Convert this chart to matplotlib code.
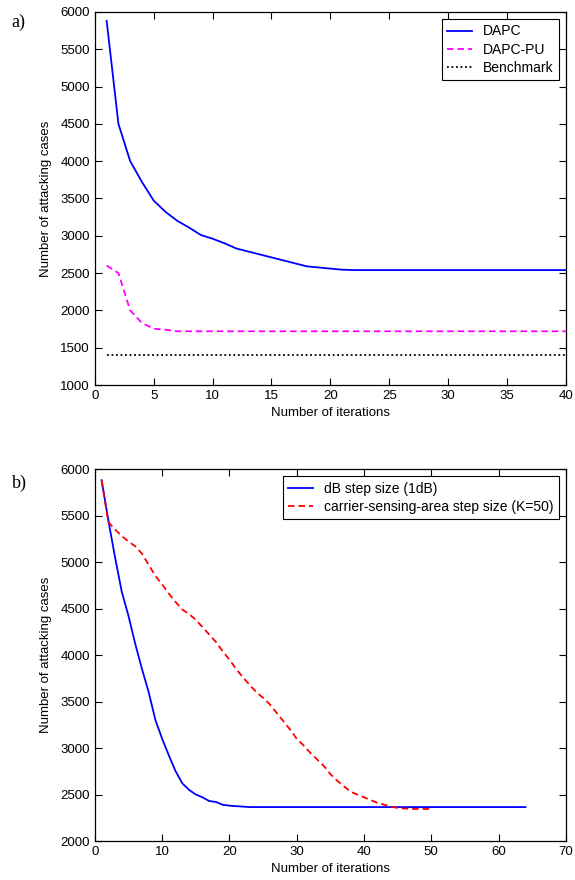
import matplotlib
matplotlib.use("Agg")
import matplotlib.pyplot as plt

plt.rcParams['font.family'] = ['Liberation Sans', 'DejaVu Sans']

# panel a)
iters_a = list(range(1, 41))
dapc = [5880, 4500, 4000, 3720, 3470, 3320, 3200, 3110, 3010, 2960,
        2900, 2830, 2790, 2750, 2710, 2670, 2630, 2590, 2575, 2560,
        2545, 2540, 2540, 2540, 2540, 2540, 2540, 2540, 2540, 2540,
        2540, 2540, 2540, 2540, 2540, 2540, 2540, 2540, 2540, 2540]
dapc_pu = [2600, 2500, 2000, 1830, 1755, 1740, 1720] + [1720] * 33
benchmark = [1400] * 40

# panel b)
iters_db = list(range(1, 65))
db_step = [5880, 5450, 5050, 4680, 4420, 4120, 3850, 3600, 3300, 3100,
           2920, 2750, 2620, 2550, 2500, 2470, 2430, 2420, 2390, 2380,
           2375, 2370] + [2365] * 42
iters_cs = list(range(1, 51))
cs_step = [5880, 5430, 5350, 5280, 5220, 5170, 5090, 4970, 4850, 4760,
           4660, 4570, 4490, 4440, 4380, 4300, 4220, 4140, 4040, 3950,
           3850, 3760, 3680, 3600, 3540, 3470, 3380, 3290, 3200, 3100,
           3030, 2950, 2880, 2810, 2720, 2650, 2590, 2530, 2500, 2470,
           2440, 2410, 2390, 2370, 2355, 2350, 2345, 2345, 2345, 2345]

fig = plt.figure(figsize=(5.75, 8.8), dpi=100)
ax1 = fig.add_axes([0.165, 0.5625, 0.819, 0.424])
ax2 = fig.add_axes([0.165, 0.0443, 0.819, 0.4227])

dash = (0, (3.6, 2.2))

ax1.plot(iters_a, dapc, color='#0000ff', lw=1.3, label='DAPC')
ax1.plot(iters_a, dapc_pu, color='#ff00ff', lw=1.3, ls=dash, label='DAPC-PU')
ax1.plot(iters_a, benchmark, color='black', lw=1.3, ls=(0, (1, 1.5)), label='Benchmark')
ax1.set_xlim(0, 40)
ax1.set_ylim(1000, 6000)
ax1.set_xticks(range(0, 41, 5))
ax1.set_yticks(range(1000, 6001, 500))

ax2.plot(iters_db, db_step, color='#0000ff', lw=1.3, label='dB step size (1dB)')
ax2.plot(iters_cs, cs_step, color='#ff0000', lw=1.3, ls=dash,
         label='carrier-sensing-area step size (K=50)')
ax2.set_xlim(0, 70)
ax2.set_ylim(2000, 6000)
ax2.set_xticks(range(0, 71, 10))
ax2.set_yticks(range(2000, 6001, 500))

for ax in (ax1, ax2):
    ax.tick_params(direction='in', top=True, right=True, labelsize=9.5, length=5, width=0.8)
    for s in ax.spines.values():
        s.set_linewidth(0.9)
    ax.set_xlabel('Number of iterations', fontsize=9.5, labelpad=4)
    ax.set_ylabel('Number of attacking cases', fontsize=9.5, labelpad=6)

for ax in (ax1, ax2):
    leg = ax.legend(loc='upper right', fontsize=10, fancybox=False, edgecolor='black',
                    framealpha=1, handlelength=1.75, handletextpad=0.8,
                    borderaxespad=0.5, labelspacing=0.3)
    leg.get_frame().set_linewidth(0.8)

fig.text(0.02, 0.975, 'a)', family='Liberation Serif', fontsize=13, va='center')
fig.text(0.02, 0.451, 'b)', family='Liberation Serif', fontsize=13, va='center')

fig.savefig('out.png', dpi=100, facecolor='white')
